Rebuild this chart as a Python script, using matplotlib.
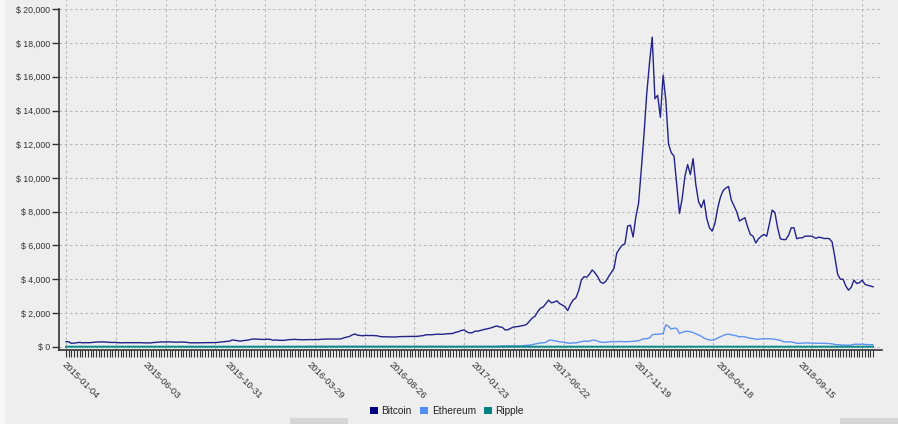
import matplotlib
matplotlib.use('Agg')
import matplotlib.pyplot as plt
import numpy as np
import pandas as pd
from matplotlib.patches import Rectangle, Patch

plt.rcParams['font.family'] = ['Liberation Sans', 'DejaVu Sans']

# ---------------- data (sampled every 5 days from start_date) ----------------
start_date = '2015-01-04'
step = '5D'
series_names = ['Bitcoin', 'Ethereum', 'Ripple']

bitcoin = [
    300, 290, 195, 215, 235, 255, 230, 240, 235, 240,
    260, 275, 280, 290, 285, 265, 255, 250, 255, 240,
    230, 235, 240, 235, 240, 235, 238, 240, 230, 225,
    228, 225, 245, 255, 270, 285, 275, 290, 285, 280,
    275, 265, 280, 275, 265, 240, 228, 230, 230, 240,
    232, 232, 235, 240, 238, 245, 262, 285, 295, 315,
    330, 400, 375, 345, 330, 360, 375, 400, 440, 455,
    450, 435, 430, 430, 445, 430, 380, 400, 380, 375,
    380, 400, 420, 425, 435, 420, 415, 410, 415, 420,
    418, 420, 422, 425, 445, 450, 450, 455, 455, 450,
    455, 470, 530, 570, 610, 700, 750, 680, 660, 650,
    670, 660, 665, 655, 650, 610, 590, 585, 580, 575,
    575, 575, 595, 600, 610, 605, 605, 605, 610, 615,
    640, 655, 705, 710, 705, 720, 740, 740, 735, 755,
    770, 775, 790, 860, 890, 965, 990, 880, 820, 830,
    920, 920, 960, 1010, 1040, 1080, 1120, 1180, 1230, 1170,
    1150, 1000, 1000, 1080, 1160, 1180, 1200, 1240, 1260, 1330,
    1520, 1700, 1800, 2070, 2280, 2350, 2550, 2760, 2600, 2640,
    2720, 2560, 2470, 2380, 2140, 2500, 2770, 2890, 3300, 3950,
    4150, 4120, 4300, 4550, 4380, 4150, 3840, 3750, 3880, 4150,
    4400, 4650, 5550, 5800, 6020, 6100, 7150, 7200, 6500, 7700,
    8500, 10500, 12600, 15000, 16800, 18350, 14700, 14900, 13600, 16100,
    14600, 12000, 11500, 11300, 9600, 7900, 8800, 10100, 10800, 10200,
    11150, 9600, 8600, 8250, 8700, 7600, 7050, 6850, 7300, 8200,
    8850, 9250, 9400, 9500, 8700, 8350, 8000, 7450, 7550, 7650,
    7100, 6650, 6550, 6150, 6400, 6550, 6650, 6550, 7300, 8100,
    7950, 7050, 6400, 6350, 6350, 6600, 7050, 7050, 6400, 6450,
    6450, 6550, 6550, 6560, 6520, 6420, 6490, 6470, 6410, 6420,
    6400, 6200, 5300, 4300, 4000, 4000, 3600, 3350, 3520, 3950,
    3750, 3790, 3950, 3700, 3640, 3600, 3550,
]

ethereum = [None] * 43 + [
    2.8, 1.2, 1.3, 1.2, 1.3, 1.3, 1.2, 0.9, 0.9, 0.9, 0.7, 0.6, 0.6, 0.6, 0.7, 1.0, 1.0, 0.9,
    1.0, 0.9, 0.9, 0.95, 0.9, 0.87, 0.8, 0.85, 0.9, 0.95, 0.9, 0.95,
    0.95, 0.95, 1.0, 1.3, 2.0, 2.3, 2.4, 2.5, 3.4, 5.0, 5.7, 6.4,
    8.0, 10.0, 12.0, 11.5, 12.3, 11.0, 10.8, 8.0, 8.5, 7.5, 7.8, 8.0,
    9.2, 10.0, 11.0, 13.0, 14.0, 12.8, 14.2, 15.5, 18.0, 19.8, 14.0, 12.5,
    11.9, 12.0, 12.9, 11.2, 10.9, 12.8, 11.5, 10.4, 11.0, 10.9, 11.1, 11.5,
    11.9, 12.0, 12.4, 13.1, 13.0, 12.6, 13.0, 12.1, 12.0, 12.3, 11.9, 11.4,
    10.8, 10.8, 10.0, 9.8, 9.6, 9.2, 8.3, 8.2, 8.5, 8.0, 7.9, 7.3,
    8.2, 10.2, 9.7, 10.5, 10.7, 10.6, 10.8, 11.3, 11.4, 12.7, 12.9, 12.8,
    15.5, 19.1, 28.0, 43.0, 42.8, 50.0, 44.0, 47.0, 48.0, 50.0, 48.5, 70.0,
    80, 88, 120, 160, 190, 230, 225, 255, 370, 395, 350, 330,
    290, 280, 260, 220, 200, 235, 220, 265, 300, 330, 320, 320,
    390, 380, 330, 270, 255, 265, 285, 300, 300, 300, 310, 300, 295, 300, 305, 315, 330,
    350, 420, 470, 470, 520, 700, 740, 730, 760, 780,
    1300, 1200, 1040, 1100, 1080, 780, 860, 900, 920, 880,
    840, 760, 700, 620, 510, 440, 400, 390, 420, 520,
    590, 660, 720, 750, 700, 680, 640, 580, 600, 580,
    540, 500, 480, 450, 440, 460, 470, 470, 470, 460,
    440, 410, 380, 300, 280, 290, 280, 250, 200, 200,
    210, 225, 220, 210, 205, 200, 200, 205, 200, 195,
    180, 170, 130, 115, 110, 100, 90, 85, 100, 140,
    150, 140, 155, 130, 125, 120, 115,
]

ripple = [
    0.024, 0.022, 0.017, 0.016, 0.017, 0.016,
    0.016, 0.015, 0.015, 0.014, 0.014, 0.013,
    0.013, 0.012, 0.011, 0.011, 0.011, 0.010,
    0.009, 0.008, 0.007, 0.007, 0.007, 0.007,
    0.007, 0.008, 0.008, 0.008, 0.009, 0.011,
    0.011, 0.010, 0.010, 0.010, 0.010, 0.010,
    0.010, 0.010, 0.009, 0.009, 0.008, 0.008,
    0.008, 0.008, 0.008, 0.007, 0.007, 0.007,
    0.007, 0.007, 0.007, 0.006, 0.006, 0.006,
    0.006, 0.005, 0.005, 0.005, 0.005, 0.005,
    0.005, 0.004, 0.004, 0.004, 0.004, 0.005,
    0.005, 0.005, 0.006, 0.006, 0.006, 0.006,
    0.006, 0.006, 0.006, 0.007, 0.007, 0.006,
    0.006, 0.006, 0.007, 0.007, 0.008, 0.008,
    0.008, 0.008, 0.007, 0.007, 0.007, 0.007,
    0.007, 0.007, 0.007, 0.007, 0.007, 0.006,
    0.006, 0.006, 0.006, 0.006, 0.006, 0.006,
    0.006, 0.006, 0.006, 0.006, 0.006, 0.006,
    0.006, 0.006, 0.006, 0.006, 0.006, 0.006,
    0.006, 0.006, 0.006, 0.006, 0.006, 0.006,
    0.006, 0.006, 0.006, 0.006, 0.006, 0.006,
    0.007, 0.008, 0.008, 0.008, 0.007, 0.007,
    0.007, 0.007, 0.007, 0.007, 0.007, 0.007,
    0.007, 0.007, 0.007, 0.007, 0.007, 0.007,
    0.006, 0.006, 0.006, 0.006, 0.006, 0.006,
    0.006, 0.006, 0.006, 0.006, 0.006, 0.006,
    0.006, 0.006, 0.007, 0.008, 0.009, 0.010,
    0.011, 0.013, 0.030, 0.035, 0.030, 0.040,
    0.050, 0.070, 0.180, 0.190, 0.240, 0.300,
    0.270, 0.260, 0.280, 0.280, 0.300, 0.270,
    0.260, 0.260, 0.240, 0.180, 0.150, 0.170,
    0.190, 0.180, 0.170, 0.180, 0.200, 0.220,
    0.230, 0.230, 0.220, 0.200, 0.180, 0.190,
    0.190, 0.200, 0.220, 0.230, 0.200, 0.200,
    0.200, 0.210, 0.230, 0.240, 0.210, 0.210,
    0.220, 0.260, 0.260, 0.360, 0.420, 0.700,
    0.720, 0.880, 1.100, 1.500, 2.300, 2.800,
    3.100, 1.700, 1.600, 1.200, 1.100, 1.000,
    1.100, 1.050, 1.000, 0.900, 0.850, 0.750,
    0.700, 0.650, 0.580, 0.520, 0.500, 0.540,
    0.670, 0.800, 0.850, 0.850, 0.700, 0.680,
    0.620, 0.620, 0.620, 0.600, 0.560, 0.550,
    0.530, 0.510, 0.490, 0.480, 0.470, 0.460,
    0.450, 0.450, 0.440, 0.420, 0.350, 0.300,
    0.280, 0.290, 0.330, 0.340, 0.300, 0.280,
    0.270, 0.330, 0.450, 0.520, 0.550, 0.500,
    0.470, 0.460, 0.470, 0.480, 0.510, 0.520,
    0.480, 0.450, 0.400, 0.380, 0.350, 0.300,
    0.300, 0.340, 0.400, 0.370, 0.360, 0.350,
    0.330, 0.320, 0.310,
]

y_ticks = list(range(0, 20001, 2000))
label_every = 30

assert len(bitcoin) == len(ethereum) == len(ripple)
n = len(bitcoin)
dates = pd.date_range(start_date, periods=n, freq=step)
x = np.arange(n)
eth = np.array([np.nan if v is None else v for v in ethereum], dtype=float)

# ---------------- figure ----------------
W, H = 898, 424
bg = '#eeeeee'
fig = plt.figure(figsize=(W / 100, H / 100), dpi=100, facecolor=bg)
ax_left, ax_right, ax_top, ax_bottom = 59.3, 881.7, 9.3, 350.0
ax = fig.add_axes([ax_left / W, (H - ax_bottom) / H,
                   (ax_right - ax_left) / W, (ax_bottom - ax_top) / H])
ax.set_facecolor(bg)

px_per_pt = 2.7265
ax.set_xlim((ax_left - 66) / px_per_pt, (ax_right - 66) / px_per_pt)
ax.set_ylim(-196, 20000)

grid_kw = dict(color='#b8b8b8', lw=0.75, ls=(0, (2.5, 2.5)), zorder=0)
for v in y_ticks:
    ax.axhline(v, **grid_kw)
top_ext = 1 + ax_top / (ax_bottom - ax_top)
for k in range(17):
    ax.axvline(k * 18.25, ymin=0, ymax=top_ext, clip_on=False, **grid_kw)

ax.plot(x, eth, color='#5b93f0', lw=1.0, zorder=3)
ax.plot(x, ripple, color='#0b8a8a', lw=1.4, zorder=4)
ax.plot(x, bitcoin, color='#22228a', lw=1.0, zorder=5)

for s in ['top', 'right']:
    ax.spines[s].set_visible(False)
for s in ['left', 'bottom']:
    ax.spines[s].set_color('#333333')
    ax.spines[s].set_linewidth(1.2)

ax.set_yticks(y_ticks)
ax.set_yticklabels([f"$ {v:,}" for v in y_ticks], fontsize=6.3, color='#333333')
ax.tick_params(axis='y', length=5, width=1, color='#333333', pad=1.5)

ax.set_xticks(x, minor=True)
major = x[::label_every]
ax.set_xticks(major)
ax.set_xticklabels([dates[i].strftime('%Y-%m-%d') for i in major],
                   rotation=-45, ha='left', va='top', rotation_mode='anchor',
                   fontsize=6.8, color='#333333')
ax.tick_params(axis='x', which='both', length=5, width=0.8, color='#333333', pad=2)

handles = [Patch(facecolor='#000080', edgecolor='none'),
           Patch(facecolor='#4f8ff5', edgecolor='none'),
           Patch(facecolor='#008080', edgecolor='none')]
fig.legend(handles, series_names, loc='center', bbox_to_anchor=(447 / W, 1 - 411 / H),
           ncol=3, frameon=False, fontsize=7.3, handlelength=0.8, handleheight=0.8,
           handletextpad=0.35, columnspacing=0.8, labelcolor='#222222')

# page decorations (scrollbar-like strips)
fig.patches.append(Rectangle((0, 0), 5 / W, 1, transform=fig.transFigure,
                             facecolor='#f7f7f7', edgecolor='none', zorder=-1))
fig.patches.append(Rectangle((290 / W, 0), 58 / W, 6 / H, transform=fig.transFigure,
                             facecolor='#d6d6d6', edgecolor='none'))
fig.patches.append(Rectangle((840 / W, 0), 58 / W, 6 / H, transform=fig.transFigure,
                             facecolor='#d6d6d6', edgecolor='none'))

fig.savefig('out.png', dpi=100, facecolor=bg)
